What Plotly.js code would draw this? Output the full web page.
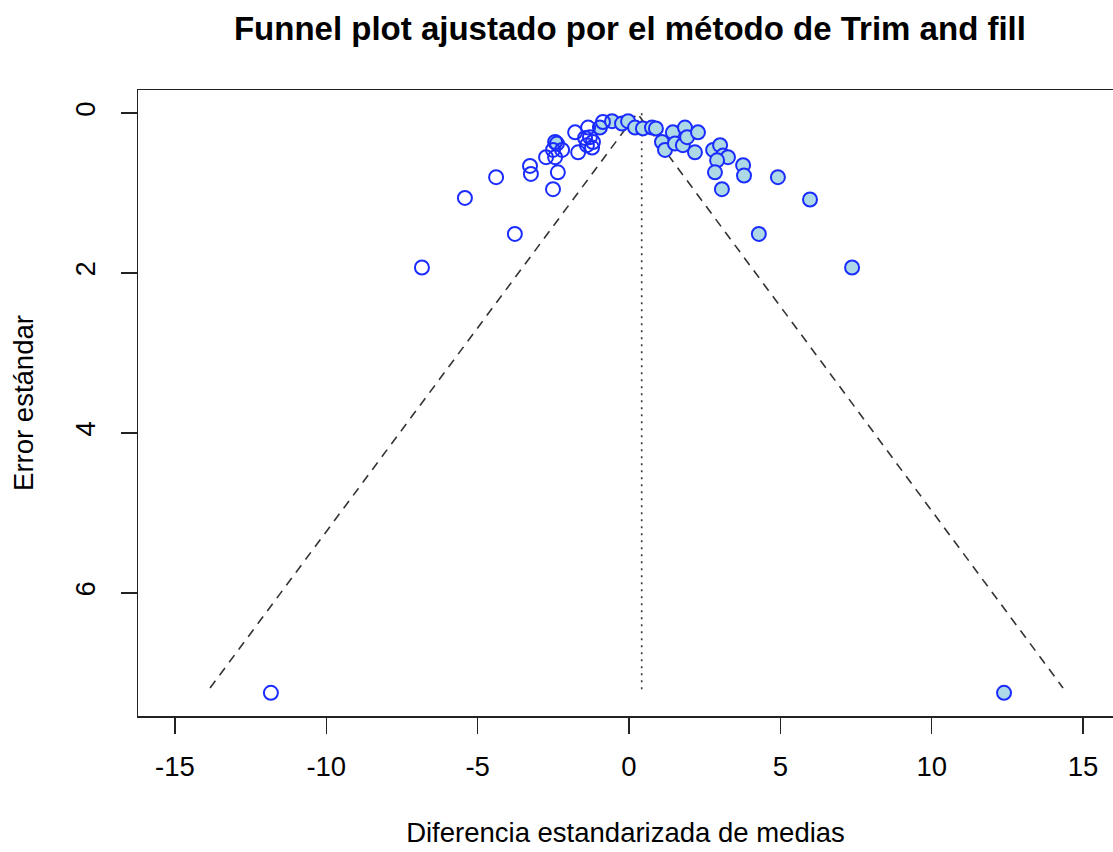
<!DOCTYPE html>
<html>
<head>
<meta charset="utf-8">
<script src="https://cdn.plot.ly/plotly-3.0.1.min.js"></script>
<style>
html, body { margin: 0; padding: 0; background: #ffffff; overflow: hidden; }
#chart { width: 1113px; height: 852px; }
</style>
</head>
<body>
<div id="chart"></div>
<script>
// Observed studies (filled light blue)
const filledX = [-2.44, -0.96, -0.56, -0.23, -0.03, 0.20, 0.46, 0.76, 0.89, 1.09, 1.19, 1.45, 1.52, 1.78, 1.85, 1.92, 2.28, 2.18, 2.78, 3.01, 3.11, 3.27, 2.91, 2.84, 3.07, 3.77, 3.80, 4.92, 5.98, 4.29, 7.37, 12.39];
const filledY = [0.36, 0.18, 0.10, 0.13, 0.10, 0.18, 0.19, 0.18, 0.19, 0.36, 0.46, 0.24, 0.38, 0.40, 0.18, 0.30, 0.24, 0.49, 0.46, 0.40, 0.53, 0.55, 0.59, 0.74, 0.95, 0.65, 0.78, 0.80, 1.08, 1.51, 1.93, 7.25];
// Filled-in studies (open circles)
const openX = [-11.83, -6.84, -5.42, -4.39, -3.77, -3.27, -3.24, -2.51, -2.35, -2.74, -2.51, -2.21, -2.44, -2.38, -1.78, -1.68, -1.35, -1.29, -1.45, -1.19, -1.39, -1.22, -0.86];
const openY = [7.25, 1.93, 1.06, 0.80, 1.51, 0.66, 0.76, 0.95, 0.74, 0.55, 0.46, 0.46, 0.55, 0.38, 0.24, 0.49, 0.18, 0.30, 0.31, 0.36, 0.40, 0.43, 0.11];
// Funnel (pseudo confidence region) and adjusted estimate
const funnelX = [-13.84, 0.27, 14.34];
const funnelY = [7.19, 0.0, 7.19];
const estimateX = [0.42, 0.42];
const estimateY = [0.0, 7.25];
// Axis ticks
const xTicks = [-15, -10, -5, 0, 5, 10, 15];
const xTickLabels = ["-15", "-10", "-5", "0", "5", "10", "15"];
const yTicks = [0, 2, 4, 6];
const yTickLabels = ["0", "2", "4", "6"];

const FONT = "Liberation Sans, Arial, Helvetica, sans-serif";

const traces = [
  {
    x: funnelX, y: funnelY, type: "scatter", mode: "lines",
    line: { color: "#333333", width: 1.6, dash: "9px,7px" },
    hoverinfo: "skip", showlegend: false
  },
  {
    x: estimateX, y: estimateY, type: "scatter", mode: "lines",
    line: { color: "#333333", width: 1.6, dash: "2px,5px" },
    hoverinfo: "skip", showlegend: false
  },
  {
    x: filledX, y: filledY, type: "scatter", mode: "markers",
    marker: { symbol: "circle", size: 14, color: "#ADD8E6", line: { color: "#1a2cff", width: 2 } },
    showlegend: false
  },
  {
    x: openX, y: openY, type: "scatter", mode: "markers",
    marker: { symbol: "circle-open", size: 14, color: "#1a2cff", line: { width: 2 } },
    showlegend: false
  }
];

const layout = {
  width: 1113, height: 852,
  margin: { l: 138, r: 0, t: 90, b: 136 },
  paper_bgcolor: "#ffffff", plot_bgcolor: "#ffffff",
  font: { family: FONT, size: 28, color: "#000000" },
  showlegend: false,
  title: {
    text: "<b>Funnel plot ajustado por el método de Trim and fill</b>",
    font: { family: FONT, size: 33, color: "#000000" },
    xref: "container", x: 0.566, xanchor: "center",
    yref: "container", y: 0.967, yanchor: "middle"
  },
  xaxis: {
    range: [-16.22, 15.99],
    tickmode: "array", tickvals: xTicks, ticktext: xTickLabels,
    ticks: "outside", ticklen: 16, tickwidth: 1.5, tickcolor: "#222222",
    showline: true, linecolor: "#222222", linewidth: 1.5, mirror: true,
    showgrid: false, zeroline: false,
    ticklabelstandoff: 9,
    tickfont: { family: FONT, size: 27.5, color: "#000000" },
    title: { text: "Diferencia estandarizada de medias", font: { family: FONT, size: 27.5, color: "#000000" }, standoff: 42 }
  },
  yaxis: {
    range: [7.54, -0.29],
    tickmode: "array", tickvals: yTicks, ticktext: yTickLabels,
    ticks: "outside", ticklen: 16, tickwidth: 1.5, tickcolor: "#222222",
    showline: true, linecolor: "#222222", linewidth: 1.5, mirror: false,
    showgrid: false, zeroline: false,
    tickangle: -90,
    ticklabelstandoff: 15,
    tickfont: { family: FONT, size: 27.5, color: "#000000" },
    title: { text: "Error estándar", font: { family: FONT, size: 27.5, color: "#000000" }, standoff: 28 }
  }
};

Plotly.newPlot("chart", traces, layout, { displayModeBar: false, staticPlot: true });
</script>
</body>
</html>
